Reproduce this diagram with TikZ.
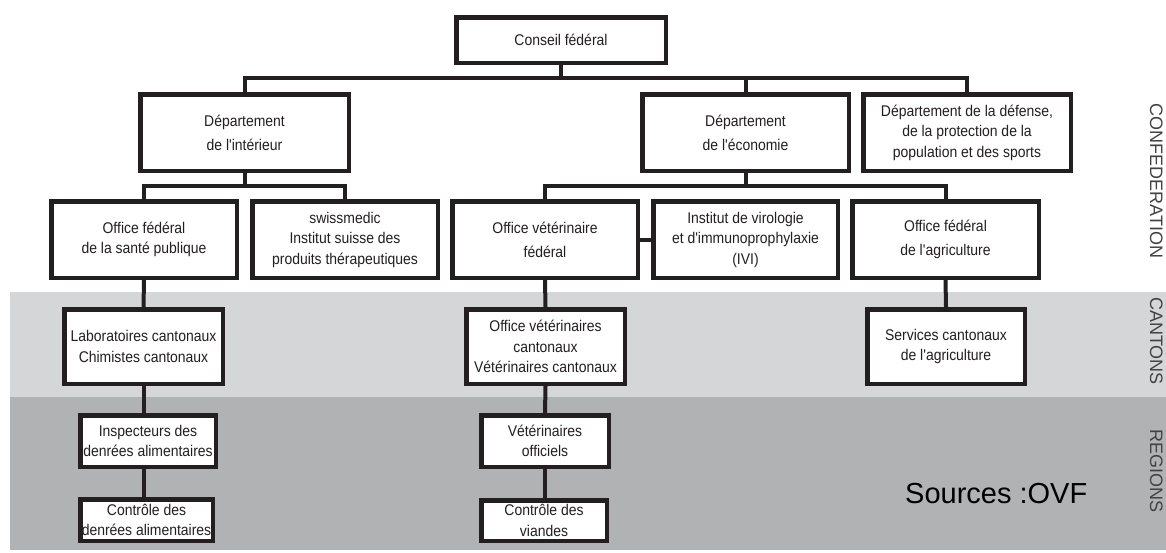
\documentclass[tikz,border=0pt]{standalone}
\usepackage{fontspec}
\setmainfont{Liberation Sans}
\newfontfamily\boxfont[FakeStretch=0.9]{Liberation Sans}
\newfontfamily\plainsans{Liberation Sans}
\definecolor{ink}{HTML}{231F20}
\definecolor{bandA}{HTML}{D5D6D8}
\definecolor{bandB}{HTML}{B1B2B4}
\begin{document}
\begin{tikzpicture}[x=1pt,y=-1pt,
  box/.style={draw=ink, line width=4.5pt, fill=white, align=center, inner sep=0pt,
    text=ink, font=\boxfont\fontsize{15.5}{20.5}\selectfont},
  conn/.style={draw=ink, line width=4pt, line join=miter},
  side/.style={font=\plainsans\fontsize{18}{20}\selectfont, rotate=-90, anchor=base,
    text=ink!85, inner sep=0pt}]
\useasboundingbox (0,0) rectangle (1166,552);
\clip (0,0) rectangle (1166,552);
% bands
\fill[bandA] (10,292) rectangle (1166,397);
\fill[bandB] (10,397) rectangle (1166,550);
% level 0
\node[box, minimum width=209.5pt, minimum height=45.5pt] (cons) at (561,40) {Conseil fédéral};
% level 1
\node[box, minimum width=208.5pt, minimum height=76.5pt] (dint) at (244.5,132.5) {Département\\[3.5pt]de l'intérieur};
\node[box, minimum width=206.5pt, minimum height=76.5pt] (deco) at (745.5,132.5) {Département\\[3.5pt]de l'économie};
\node[box, minimum width=207.5pt, minimum height=76.5pt] (ddef) at (967,132.5) {Département de la défense,\\de la protection de la\\population et des sports};
% level 2
\node[box, minimum width=185.5pt, minimum height=76.5pt] (sante) at (144,239.5) {Office fédéral\\de la santé publique};
\node[box, minimum width=185.5pt, minimum height=76.5pt] (swiss) at (345,239.5) {swissmedic\\Institut suisse des\\produits thérapeutiques};
\node[box, minimum width=185.5pt, minimum height=76.5pt] (ovf) at (545,239.5) {Office vétérinaire\\[3.5pt]fédéral};
\node[box, minimum width=184.5pt, minimum height=76.5pt] (ivi) at (745.5,239.5) {Institut de virologie\\et d'immunoprophylaxie\\(IVI)};
\node[box, minimum width=186.5pt, minimum height=76.5pt] (ofag) at (945.5,239.5) {Office fédéral\\[3.5pt]de l'agriculture};
% cantons
\node[box, minimum width=158.5pt, minimum height=74.5pt] (labo) at (143.5,346.5) {Laboratoires cantonaux\\Chimistes cantonaux};
\node[box, minimum width=158.5pt, minimum height=74.5pt] (ovc) at (545.5,346.5) {Office vétérinaires\\cantonaux\\Vétérinaires cantonaux};
\node[box, minimum width=157.5pt, minimum height=74.5pt] (scag) at (946,346.5) {Services cantonaux\\de l'agriculture};
% regions
\node[box, minimum width=135.5pt, minimum height=51.5pt] (insp) at (148,441) {Inspecteurs des\\denrées alimentaires};
\node[box, minimum width=127.5pt, minimum height=51.5pt] (vof) at (545,441) {Vétérinaires\\officiels};
\node[box, minimum width=132.5pt, minimum height=41.5pt] (ctrl) at (146.5,520) {Contrôle des\\denrées alimentaires};
\node[box, minimum width=125.5pt, minimum height=40.5pt] (cvia) at (544,520.5) {Contrôle des\\viandes};
% bus coordinates
\coordinate (bus1) at (561,78);
\coordinate (bus2) at (244.5,186);
\coordinate (bus3) at (745.5,186);
% connectors
\draw[conn] (cons.south) -- (bus1);
\draw[conn] (dint.north) |- (bus1) -| (ddef.north);
\draw[conn] (deco.north) -- (deco.north |- bus1);
\draw[conn] (dint.south) -- (bus2);
\draw[conn] (sante.north) |- (bus2) -| (swiss.north);
\draw[conn] (deco.south) -- (bus3);
\draw[conn] (ovf.north) |- (bus3) -| (ofag.north);
\draw[conn] (ovf.east) -- (ivi.west);
\draw[conn] (sante.south) -- (labo.north);
\draw[conn] (labo.south) -- (labo.south |- insp.north);
\draw[conn] (labo.south |- insp.south) -- (labo.south |- ctrl.north);
\draw[conn] (ovf.south) -- (ovc.north);
\draw[conn] (ovc.south) -- (vof.north);
\draw[conn] (vof.south) -- (vof.south |- cvia.north);
\draw[conn] (ofag.south) -- (scag.north);
% source
\node[font=\plainsans\fontsize{29}{31}\selectfont, anchor=base west, inner sep=0pt, text=black] (src) at (905,503) {Sources :OVF};
% side labels
\node[side] (lconf) at (1150,181) {CONFEDERATION};
\node[side] (lcant) at (1150,341) {CANTONS};
\node[side] (lreg) at (1150,471) {REGIONS};
\end{tikzpicture}
\end{document}
